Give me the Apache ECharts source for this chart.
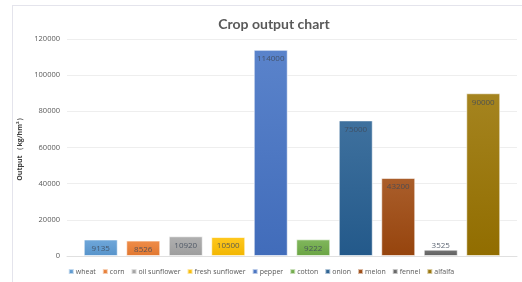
<!DOCTYPE html>
<html>
<head>
    <meta charset="utf-8">
    <script src="https://cdn.jsdelivr.net/npm/echarts@6/dist/echarts.min.js"></script>
    <style>
        html, body { margin: 0; padding: 0; background: #fff; }
        #frame { position: absolute; left: 12px; top: 5px; width: 520px; height: 290px; border-left: 1px solid #e4e4ec; border-top: 1px solid #e4e4ec; }
    </style>
</head>
<body>
    <div id="frame"></div>
    <div id="main" style="position:absolute;left:0;top:0;width:522px;height:282px;"></div>
    <script type="text/javascript">
    var crops = ['wheat', 'corn', 'oil sunflower', 'fresh sunflower', 'pepper', 'cotton', 'onion', 'melon', 'fennel', 'alfalfa'];
    var outputs = [9135, 8526, 10920, 10500, 114000, 9222, 75000, 43200, 3525, 90000];
    var yTicks = [0, 20000, 40000, 60000, 80000, 100000, 120000];

    var colors = ['#5b9bd5', '#ed7d31', '#a5a5a5', '#ffc000', '#4472c4', '#70ad47', '#255e91', '#9e480e', '#636363', '#997300'];

    function mix(hex, t) {
        var n = parseInt(hex.slice(1), 16);
        var r = (n >> 16) & 255, g = (n >> 8) & 255, b = n & 255;
        r = Math.round(r + (255 - r) * t); g = Math.round(g + (255 - g) * t); b = Math.round(b + (255 - b) * t);
        return 'rgb(' + r + ',' + g + ',' + b + ')';
    }
    function dark(hex, t) {
        var n = parseInt(hex.slice(1), 16);
        var r = (n >> 16) & 255, g = (n >> 8) & 255, b = n & 255;
        return 'rgb(' + Math.round(r * (1 - t)) + ',' + Math.round(g * (1 - t)) + ',' + Math.round(b * (1 - t)) + ')';
    }

    var series = crops.map(function (name, i) {
        var small = outputs[i] < 6000;
        return {
            name: name,
            type: 'bar',
            data: [outputs[i]],
            barWidth: 34,
            barGap: '25%',
            itemStyle: {
                color: new echarts.graphic.LinearGradient(0, 0, 0, 1, [
                    { offset: 0, color: mix(colors[i], 0.12) },
                    { offset: 1, color: dark(colors[i], 0.05) }
                ]),
                borderColor: 'rgba(255,255,255,0.6)',
                borderWidth: 1
            },
            label: {
                show: true,
                position: small ? 'top' : 'insideTop',
                distance: small ? 0 : 5,
                color: '#3f4a5a',
                opacity: 0.85,
                fontSize: 8,
                fontFamily: 'Open Sans'
            }
        };
    });

    myChart = echarts.init(document.getElementById('main'));
    myChart.setOption(option = {
        animation: false,
        color: colors,
        title: {
            text: 'Crop output chart',
            left: 269,
            top: 12,
            textAlign: 'center',
            textStyle: { fontFamily: 'Lato', fontSize: 14, fontWeight: 'bold', color: '#595959' }
        },
        legend: {
            data: crops,
            left: 'center',
            bottom: 2,
            itemWidth: 5,
            itemHeight: 5,
            itemGap: 6,
            icon: 'rect',
            textStyle: { fontFamily: 'Open Sans', fontSize: 7, color: '#595959', padding: [0, 0, 0, -3] }
        },
        grid: { left: 67, right: 5, top: 39, bottom: 26 },
        xAxis: {
            type: 'category',
            data: [''],
            axisTick: { show: false },
            axisLabel: { show: false },
            axisLine: { lineStyle: { color: '#e0e0e0' } }
        },
        yAxis: {
            type: 'value',
            min: yTicks[0],
            max: yTicks[yTicks.length - 1],
            interval: yTicks[1] - yTicks[0],
            name: 'Output （kg/hm²）',
            nameLocation: 'middle',
            nameGap: 31,
            nameTextStyle: { fontFamily: 'Open Sans', fontSize: 7, fontWeight: 'bold', color: '#404040' },
            axisLabel: { fontFamily: 'Open Sans', fontSize: 7.5, color: '#595959', margin: 7, formatter: function (v) { return String(v); } },
            axisLine: { show: false },
            axisTick: { show: false },
            splitLine: { lineStyle: { color: '#eeeeee' } }
        },
        series: series
    });
    </script>
</body>
</html>
